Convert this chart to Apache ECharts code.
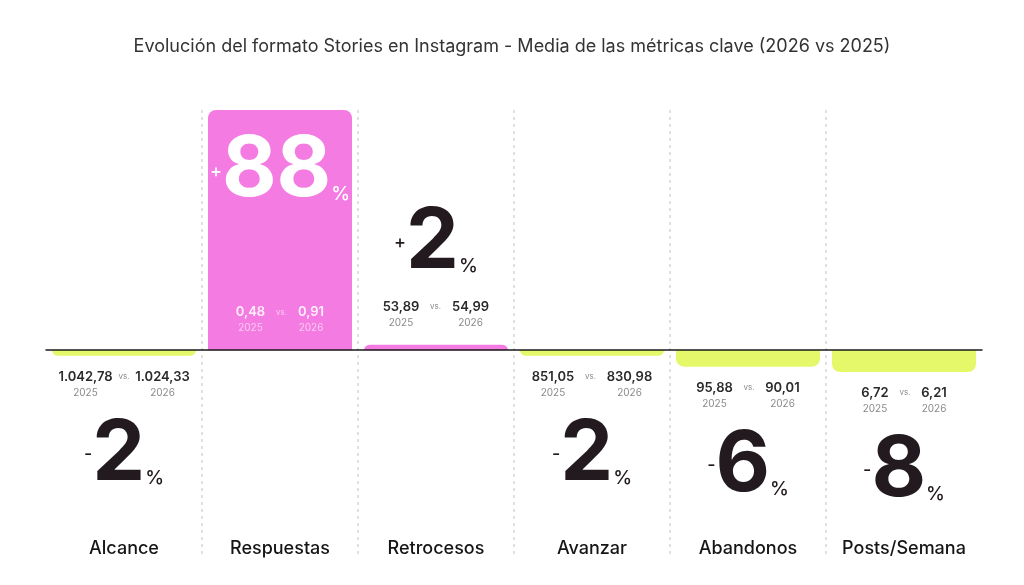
<!DOCTYPE html>
<html>
<head>
<meta charset="utf-8">
<script src="https://cdn.jsdelivr.net/npm/echarts@6/dist/echarts.min.js"></script>
<style>
  html, body { margin: 0; padding: 0; background: #fff; }
  #grafica { width: 1024px; height: 585px; }
</style>
</head>
<body>
<div id="grafica"></div>
<script>
// Datos de la grafica (variacion % 2026 vs 2025)
var categorias = ['Alcance', 'Respuestas', 'Retrocesos', 'Avanzar', 'Abandonos', 'Posts/Semana'];
var cambios = [-2, 88, 2, -2, -6, -8];
var valores2025 = ['1.042,78', '0,48', '53,89', '851,05', '95,88', '6,72'];
var valores2026 = ['1.024,33', '0,91', '54,99', '830,98', '90,01', '6,21'];
var anios = ['2025', '2026'];

var rosa = '#F47BE1';
var lima = '#E4F86A';
var tinta = '#231a20';
var fuente = 'Inter';

// Mide el ancho de un texto para alinear los años bajo cada valor
var ctx = document.createElement('canvas').getContext('2d');
function anchoTexto(t) {
  ctx.font = '600 13px ' + fuente;
  return Math.ceil(ctx.measureText(t).width) + 2;
}

function etiqueta(i) {
  var v = cambios[i];
  var dentro = v > 40; // la barra grande lleva el texto dentro
  var cGrande = dentro ? '#ffffff' : tinta;
  var cNum = dentro ? 'rgba(255,255,255,0.88)' : '#2a2a2a';
  var cAnio = dentro ? 'rgba(255,255,255,0.6)' : '#8a8a8a';
  var w1 = anchoTexto(valores2025[i]);
  var w2 = anchoTexto(valores2026[i]);
  var hueco = w1 > 45 ? 20 : 30;

  var grande = '{s|' + (v > 0 ? '+' : '-') + '}{g|' + Math.abs(v) + '}{p|%}';
  var datos = '{a|' + valores2025[i] + '}{v|vs.}{b|' + valores2026[i] + '}';
  var años = '{ya|' + anios[0] + '}{vv| }{yb|' + anios[1] + '}';
  var texto, espacio;
  if (v > 0) {
    texto = [grande, '{e| }', datos, años].join('\n');
    espacio = dentro ? 100 : 23;
  } else {
    texto = [datos, años, '{e| }', grande].join('\n');
    espacio = 21;
  }

  return {
    show: true,
    position: dentro ? 'insideBottom' : (v > 0 ? 'top' : 'bottom'),
    distance: v > 0 ? 14 : 13,
    formatter: texto,
    fontFamily: fuente,
    rich: {
      s: { fontFamily: fuente, fontSize: 18, fontWeight: 500, color: cGrande, align: 'center', verticalAlign: 'middle' },
      g: { fontFamily: fuente, fontSize: 84, fontWeight: 700, lineHeight: 66, color: cGrande, align: 'center', verticalAlign: 'middle' },
      p: { fontFamily: fuente, fontSize: 19, fontWeight: 500, lineHeight: 19, color: cGrande, align: 'center', verticalAlign: 'bottom' },
      a: { fontFamily: fuente, fontSize: 13, fontWeight: 600, lineHeight: 16, width: w1, align: 'center', color: cNum },
      b: { fontFamily: fuente, fontSize: 13, fontWeight: 600, lineHeight: 16, width: w2, align: 'center', color: cNum },
      v: { fontFamily: fuente, fontSize: 8, width: hueco, align: 'center', color: cAnio },
      ya: { fontFamily: fuente, fontSize: 10, lineHeight: 16, width: w1, align: 'center', color: cAnio },
      yb: { fontFamily: fuente, fontSize: 10, lineHeight: 16, width: w2, align: 'center', color: cAnio },
      vv: { fontSize: 8, width: hueco, align: 'center' },
      e: { fontSize: 1, lineHeight: espacio }
    }
  };
}

var datosBarras = cambios.map(function (v, i) {
  return {
    value: v,
    itemStyle: {
      color: v > 0 ? rosa : lima,
      borderRadius: v > 0 ? [8, 8, 0, 0] : [0, 0, 8, 8]
    },
    label: etiqueta(i)
  };
});

var chart = echarts.init(document.getElementById('grafica'));

var option = {
  backgroundColor: '#ffffff',
  animation: false,
  title: {
    text: 'Evolución del formato Stories en Instagram - Media de las métricas clave (2026 vs 2025)',
    left: 'center',
    top: 33,
    textStyle: { fontFamily: fuente, fontSize: 18, fontWeight: 'normal', color: '#333333' }
  },
  grid: { left: 46, right: 42, top: 110, bottom: 30 },
  xAxis: [{
    type: 'category',
    data: categorias,
    z: 3,
    axisLine: { show: true, onZero: true, lineStyle: { color: '#1a1a1a', width: 1.5 } },
    axisTick: { show: false },
    axisLabel: { show: false },
    splitLine: {
      show: true,
      interval: 0,
      showMinLine: false,
      showMaxLine: false,
      lineStyle: { color: '#d6d6d6', width: 1.5, type: [3, 4] }
    }
  }, {
    type: 'category',
    data: categorias,
    position: 'bottom',
    offset: -23,
    axisLine: { show: false, onZero: false },
    axisTick: { show: false },
    splitLine: { show: false },
    axisLabel: { interval: 0, fontFamily: fuente, fontSize: 18, fontWeight: 500, color: '#151515', margin: 8 }
  }],
  yAxis: {
    type: 'value',
    show: false,
    min: -75,
    max: 88
  },
  series: [{
    type: 'bar',
    xAxisIndex: 0,
    barWidth: 144,
    data: datosBarras
  }]
};

chart.setOption(option);
</script>
</body>
</html>
